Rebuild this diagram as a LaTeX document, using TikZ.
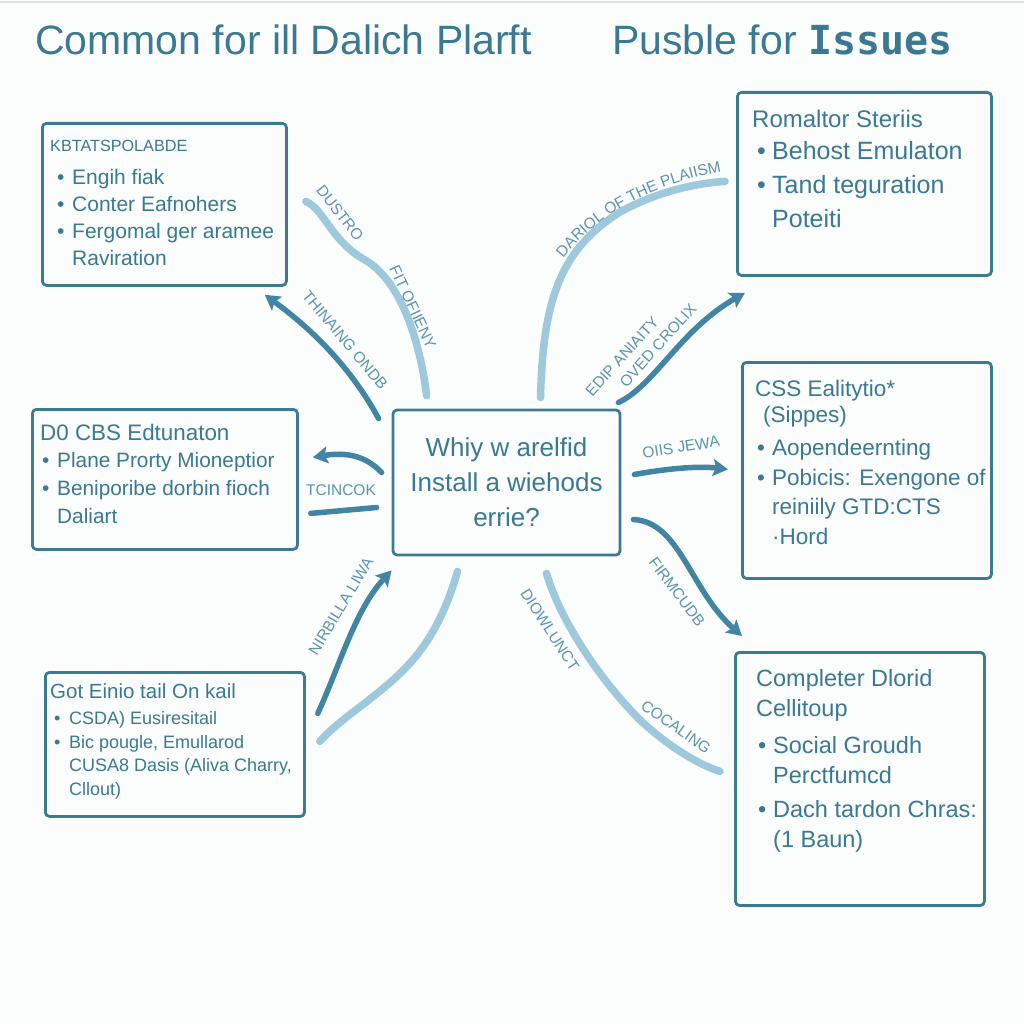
\documentclass[tikz,border=0pt]{standalone}
\usepackage{fontspec}
\setmainfont{Liberation Sans}
\newfontfamily\monob{DejaVu Sans Mono}
\usetikzlibrary{arrows.meta,decorations.text}

\definecolor{ink}{RGB}{58,121,145}
\definecolor{frame}{RGB}{60,122,145}
\definecolor{darr}{RGB}{66,133,162}
\definecolor{lite}{RGB}{158,200,220}
\definecolor{lbl}{RGB}{92,148,174}
\definecolor{paper}{RGB}{251,252,252}

\tikzset{
  panel/.style={draw=frame, line width=2.8pt, rounded corners=4pt, anchor=north west, inner sep=0pt},
  paneltext/.style={anchor=base west, align=left, inner sep=0pt, text=ink},
  darrow/.style={draw=darr, line width=5.5pt, -{Stealth[length=15pt,width=17pt,inset=3pt]}},
  dline/.style={draw=darr, line width=5.5pt},
  lline/.style={draw=lite, line width=7.5pt},
  tag/.style={text=lbl, inner sep=0pt, font=\fontsize{15.5}{19}\selectfont},
}
\newcommand{\bul}{\makebox[15pt][l]{\textbullet}}

\begin{document}
\begin{tikzpicture}[x=1pt, y=-1pt, line cap=round, line join=round]

  %% ════ 底色 ════
  \fill[paper] (0,0) rectangle (1024,1024);
  \draw[black!12, line width=1.5pt] (0,2) -- (1024,2);

  %% ════ 标题 ════
  \node[anchor=base west, inner sep=0pt, text=ink, font=\fontsize{41}{46}\selectfont] (ttl) at (35,55) {Common for ill Dalich Plarft};
  \node[anchor=base west, inner sep=0pt, text=ink, font=\fontsize{41}{46}\selectfont] (ttr) at (612,55) {Pusble for {\monob\bfseries\fontsize{40}{46}\selectfont Issues}};

  %% ════ 方框 ════
  \node[panel, minimum width=244pt, minimum height=162pt] (kbox) at (41,122) {};
  \node[panel, minimum width=254pt, minimum height=183pt] (rbox) at (736,91) {};
  \node[panel, minimum width=265pt, minimum height=140pt] (dbox) at (31,408) {};
  \node[panel, minimum width=249pt, minimum height=216pt] (cbox) at (741,361) {};
  \node[panel, minimum width=259pt, minimum height=144pt] (gbox) at (44,671) {};
  \node[panel, minimum width=249pt, minimum height=253pt] (pbox) at (734,651) {};
  \node[panel, anchor=center, minimum width=227pt, minimum height=145pt, align=center, text=ink,
        font=\fontsize{26}{35}\selectfont] (hub) at (506.5,482.5) {Whiy w arelfid\\Install a wiehods\\errie?};

  %% ════ 方框文字（基线取最后一行）════
  \node[paneltext, font=\fontsize{21}{27}\selectfont] (kboxt) at (50,265)
    {{\fontsize{16.2}{18}\selectfont KBTATSPOLABDE}\\[5pt]
     \hspace*{7pt}\bul Engih fiak\\
     \hspace*{7pt}\bul Conter Eafnohers\\
     \hspace*{7pt}\bul Fergomal ger aramee\\
     \hspace*{22pt}Raviration};
  \node[paneltext, font=\fontsize{25}{34}\selectfont] (rboxt) at (752,228)
    {{\fontsize{24}{26}\selectfont Romaltor Steriis}\\[-2pt]
     \hspace*{5pt}\bul Behost Emulaton\\
     \hspace*{5pt}\bul Tand teguration\\
     \hspace*{20pt}Poteiti};
  \node[paneltext, font=\fontsize{20.8}{28}\selectfont] (dboxt) at (40,523)
    {{\fontsize{22.4}{24}\selectfont D0 CBS Edtunaton}\\[-1pt]
     \hspace*{2pt}\bul Plane Prorty Mioneptior\\
     \hspace*{2pt}\bul Beniporibe dorbin fioch\\
     \hspace*{17pt}Daliart};
  \node[paneltext, font=\fontsize{22.5}{29.5}\selectfont] (cboxt) at (755,544)
    {CSS Ealitytio*\\[-4pt]
     \hspace*{8pt}(Sippes)\\[4pt]
     \hspace*{2pt}\bul Aopendeernting\\
     \hspace*{2pt}\bul Pobicis: Exengone of\\
     \hspace*{17pt}reiniily GTD:CTS\\
     \hspace*{17pt}·Hord};
  \node[paneltext, font=\fontsize{18}{23.5}\selectfont] (gboxt) at (50,795)
    {{\fontsize{20.5}{22}\selectfont Got Einio tail On kail}\\[3pt]
     \hspace*{4pt}\bul CSDA) Eusiresitail\\
     \hspace*{4pt}\bul Bic pougle, Emullarod\\
     \hspace*{19pt}CUSA8 Dasis (Aliva Charry,\\
     \hspace*{19pt}Cllout)};
  \node[paneltext, font=\fontsize{23.5}{29.5}\selectfont] (pboxt) at (756,847)
    {Completer Dlorid\\
     Cellitoup\\[8pt]
     \hspace*{2pt}\bul Social Groudh\\
     \hspace*{17pt}Perctfumcd\\[5pt]
     \hspace*{2pt}\bul Dach tardon Chras:\\
     \hspace*{17pt}(1 Baun)};

  %% ════ 浅色曲线 ════
  \draw[lline] ([shift={(18,-3)}]kbox.east) .. controls (325,210) and (330,240) .. (365,260)
     .. controls (400,280) and (420,340) .. ([shift={(35,-13)}]hub.north west);
  \draw[lline] ([shift={(34,-11)}]hub.north) .. controls (543,300) and (560,250) .. (620,212)
     .. controls (660,190) and (700,183) .. ([shift={(-11,-2.5)}]rbox.west);
  \draw[lline] ([shift={(40,17)}]hub.south) .. controls (560,620) and (600,680) .. (640,720)
     .. controls (670,748) and (700,765) .. ([shift={(-14,-7.5)}]pbox.west);
  \draw[lline] ([shift={(-49,15)}]hub.south) .. controls (435,650) and (400,675) .. (365,703)
     .. controls (345,718) and (330,730) .. ([shift={(14,-3)}]gbox.east);

  %% ════ 深色箭头 ════
  \draw[darrow] ([shift={(-13,10)}]hub.north west) .. controls (355,375) and (320,335) .. ([shift={(-23,8)}]kbox.south east);
  \draw[darrow] ([shift={(-10,-10)}]hub.west) .. controls (365,455) and (345,452) .. ([shift={(14,-22)}]dbox.east);
  \draw[dline] ([shift={(-15,25)}]hub.west) -- ([shift={(12,34)}]dbox.east);
  \draw[darrow] ([shift={(-3,-6)}]hub.north east) .. controls (655,385) and (680,330) .. ([shift={(9,16)}]rbox.south west);
  \draw[darrow] ([shift={(13,-8)}]hub.east) .. controls (670,468) and (700,466) .. ([shift={(-13,-1)}]cbox.west);
  \draw[darrow] ([shift={(12,37)}]hub.east) .. controls (680,522) and (690,590) .. ([shift={(8,-15)}]pbox.north west);
  \draw[darrow] ([shift={(12,-31)}]gbox.east) .. controls (340,665) and (355,610) .. ([shift={(0,14)}]hub.south west);

  %% ════ 连线标签 ════
  \node[tag, rotate=-52] (tdus) at (340,213) {DUSTRO};
  \node[tag, rotate=-65] (tfit) at (413,307) {FIT OFIIENY};
  \node[tag, rotate=-50] (tthi) at (345,340) {THINAING ONDB};
  \node[tag] (ttci) at (341,490) {TCINCOK};
  \path[decorate, decoration={text along path, text align=center,
        text={|\fontsize{15.5}{18}\selectfont\color{lbl}|DARIOL OF THE PLAIISM}}]
     (558,265) .. controls (592,218) and (645,185) .. (730,170);
  \node[tag, rotate=48, align=left] (tedi) at (641,350) {EDIP ANIAITY\\\hspace*{30pt}OVED CROLIX};
  \node[tag, rotate=9] (toii) at (681,447) {OIIS JEWA};
  \node[tag, rotate=-53] (tfir) at (677,592) {FIRMCUDB};
  \node[tag, rotate=-57] (tdio) at (550,630) {DIOWLUNCT};
  \node[tag, rotate=-35] (tcoc) at (676,727) {COCALING};
  \node[tag, rotate=59] (tnir) at (341,606) {NIRBILLA LIWA};

  % 钉死画布
  \pgfresetboundingbox
  \path[use as bounding box] (0,0) rectangle (1024,1024);
\end{tikzpicture}
\end{document}
